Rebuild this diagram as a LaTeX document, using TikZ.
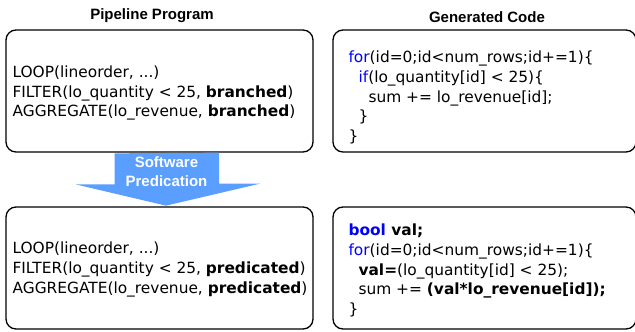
\documentclass[tikz,border=0pt]{standalone}
\usepackage{fontspec}
\setmainfont{DejaVu Sans}
\newfontfamily\headfont{Liberation Sans}
\usetikzlibrary{positioning}
\definecolor{predblue}{RGB}{90,158,255}
\definecolor{kwblue}{RGB}{0,0,255}
\newcommand{\kw}[1]{\textcolor{kwblue}{#1}}
\tikzset{
  box/.style={draw, line width=1.3pt, rounded corners=10pt, minimum height=122pt},
  txt/.style={align=left, inner sep=0pt, font=\fontsize{15.4}{19.6}\selectfont},
  title/.style={font=\headfont\bfseries\fontsize{15}{18}\selectfont},
}

\begin{document}
\begin{tikzpicture}[x=1pt,y=-1pt]
      \useasboundingbox (0,0) rectangle (635,332) ;
      \node[title] (ttlA) at (152,15.5) {Pipeline Program} ;
      \node[title] (ttlB) at (487,17.5) {Generated Code} ;
      % boxes
      \node[box, minimum width=307pt] (progA) at (159.5,91) {} ;
      \node[box, minimum width=307pt] (progB) at (159.5,268) {} ;
      \node[box, minimum width=303pt] (codeA) at (484.5,91) {} ;
      \node[box, minimum width=303pt] (codeB) at (484.5,268) {} ;
      % pipeline programs
      \node[txt, right=7pt of progA.west, yshift=-2pt] (pipeA) %
      {LOOP(lineorder, ...)\\FILTER(lo\_quantity < 25, \textbf{branched})\\AGGREGATE(lo\_revenue, \textbf{branched})} ;
      \node[txt, right=7pt of progB.west, yshift=-1.5pt] (pipeB) %
      {LOOP(lineorder, ...)\\FILTER(lo\_quantity < 25, \textbf{predicated})\\AGGREGATE(lo\_revenue, \textbf{predicated})} ;
      % generated code
      \node[txt, right=16pt of codeA.west, yshift=-6.5pt] (srcA) %
      {\kw{for}(id=0;id<num\_rows;id+=1)\{\\\hspace*{10pt}\kw{if}(lo\_quantity[id] < 25)\{\\\hspace*{20pt}sum += lo\_revenue[id];\\\hspace*{10pt}\}\\\}} ;
      \node[txt, right=16pt of codeB.west, yshift=-2.5pt] (srcB) %
      {\textbf{\kw{bool} val;}\\\kw{for}(id=0;id<num\_rows;id+=1)\{\\\hspace*{10pt}\textbf{val=}(lo\_quantity[id] < 25);\\\hspace*{10pt}sum += \textbf{(val*lo\_revenue[id]);}\\\}} ;
      % transformation arrow
      \fill[predblue] ([xshift=-45pt,yshift=-0.7pt]progA.south) -- ++(0,31) -- ++(-39,0) %
        -- ([xshift=6.5pt,yshift=0.7pt]progB.north) -- ++(94,-22) -- ++(-41,0) -- ++(0,-31) -- cycle ;
      \node[title, text=white, align=center, font=\headfont\bfseries\fontsize{15}{19}\selectfont] %
      (pred) at (166.5,171.5) {Software\\Predication} ;
\end{tikzpicture}
\end{document}
